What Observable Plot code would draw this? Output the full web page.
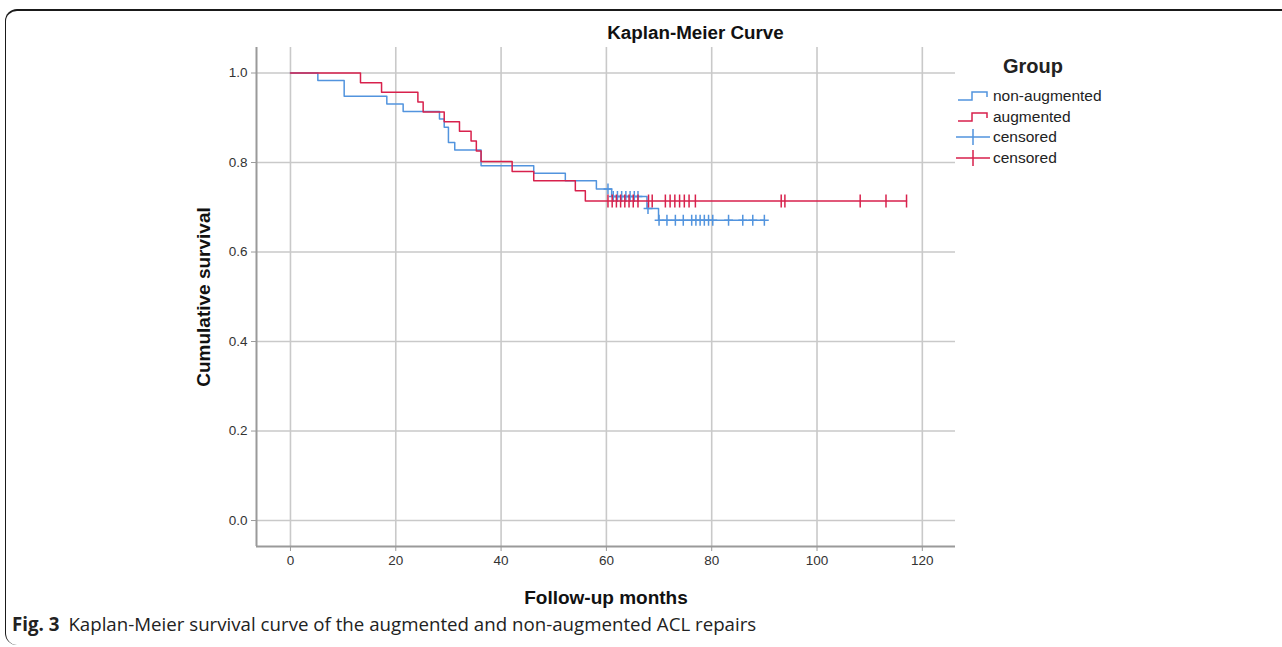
<!DOCTYPE html>
<html>
<head>
<meta charset="utf-8">
<script src="https://cdn.jsdelivr.net/npm/d3@7"></script>
<script src="https://cdn.jsdelivr.net/npm/@observablehq/plot@0.6"></script>
<style>
  html, body { margin: 0; padding: 0; background: #fff; }
  #wrap { position: relative; width: 1282px; height: 647px; overflow: hidden; font-family: "Liberation Sans", Arial, sans-serif; }
  #frame { position: absolute; left: 5px; top: 9px; width: 1300px; height: 636px; border-top: 2px solid #1a1a1a; border-left: 1.5px solid #1a1a1a; border-radius: 12px 0 0 12px; box-sizing: border-box; }
  #chart { position: absolute; left: 0; top: 0; }
  #title { position: absolute; left: 0; width: 1391px; top: 22px; text-align: center; font-weight: bold; font-size: 18.8px; color: #111; }
  #legend { position: absolute; left: 956px; top: 55px; color: #222; }
  #legend .head { font-weight: bold; font-size: 20px; margin-left: 47px; margin-bottom: 8px; }
  #legend .item { display: flex; align-items: center; height: 20.5px; font-size: 15.5px; }
  #legend svg { margin-right: 3px; }
  #caption { position: absolute; left: 12px; top: 611px; font-family: "Open Sans", "Noto Sans", sans-serif; font-size: 18.7px; color: #222; white-space: nowrap; }
  #caption b { font-weight: bold; margin-right: 9px; }
</style>
</head>
<body>
<div id="wrap">
  <div id="frame"></div>
  <div id="chart"></div>
  <div id="title">Kaplan-Meier Curve</div>
  <div id="legend"></div>
  <div id="caption"><b>Fig. 3</b>Kaplan-Meier survival curve of the augmented and non-augmented ACL repairs</div>
</div>
<script>
// ---- data ----
const groups = ["non-augmented", "augmented"];
const colors = ["#5294de", "#d8214c"];

const blueTimes = [0, 5.2, 10.2, 18.3, 21.4, 28.3, 29.2, 30.0, 31.2, 36.2, 46.2, 52.2, 58.1, 61.0, 67.7, 69.9, 90.0];
const blueSurv  = [1.0, 0.983, 0.948, 0.931, 0.914, 0.897, 0.879, 0.845, 0.828, 0.793, 0.776, 0.759, 0.741, 0.724, 0.697, 0.671, 0.671];

const redTimes = [0, 13.3, 17.3, 24.2, 25.2, 29.2, 32.1, 34.3, 35.3, 36.2, 42.1, 46.2, 54.1, 56.0, 117.0];
const redSurv  = [1.0, 0.978, 0.957, 0.935, 0.913, 0.891, 0.870, 0.848, 0.826, 0.802, 0.780, 0.759, 0.737, 0.714, 0.714];

const blueCensTimes = [60.3, 61.3, 62.1, 62.9, 63.7, 64.5, 65.3, 66.0, 67.9, 70.0, 71.5, 73.1, 74.6, 76.2, 77.0, 77.8, 78.6, 79.4, 80.2, 83.2, 85.9, 87.8, 90.0];
const blueCensSurv  = [0.741, 0.724, 0.724, 0.724, 0.724, 0.724, 0.724, 0.724, 0.697, 0.671, 0.671, 0.671, 0.671, 0.671, 0.671, 0.671, 0.671, 0.671, 0.671, 0.671, 0.671, 0.671, 0.671];

const redCensTimes = [60.3, 61.1, 61.9, 62.7, 63.5, 64.3, 65.1, 66.0, 68.0, 68.7, 71.2, 72.1, 73.0, 73.9, 74.8, 75.7, 76.9, 93.2, 93.9, 108.2, 113.1, 117.0];
const redCensSurv  = redCensTimes.map(() => 0.714);

const xTicks = [0, 20, 40, 60, 80, 100, 120];
const yTicks = [0.0, 0.2, 0.4, 0.6, 0.8, 1.0];

// ---- tables built from the arrays ----
const blueLine = blueTimes.map((t, i) => ({t, s: blueSurv[i]}));
const redLine = redTimes.map((t, i) => ({t, s: redSurv[i]}));
const blueCens = blueCensTimes.map((t, i) => ({t, s: blueCensSurv[i]}));
const redCens = redCensTimes.map((t, i) => ({t, s: redCensSurv[i]}));

// cross symbols (stroke-only)
const crossSym = {draw(ctx, size) { const r = Math.sqrt(size / Math.PI); ctx.moveTo(-r * 0.8, 0); ctx.lineTo(r * 0.8, 0); ctx.moveTo(0, -r); ctx.lineTo(0, r); }};
const vtickSym = {draw(ctx, size) { const r = Math.sqrt(size / Math.PI); ctx.moveTo(0, -r); ctx.lineTo(0, r); }};

const xDom = [-6.45, 126.3];
const yDom = [-0.058, 1.057];
const gridColor = "#c9c9c9";
const axisColor = "#9a9a9a";

const chart = Plot.plot({
  width: 1282,
  height: 612,
  marginLeft: 256,
  marginRight: 327,
  marginTop: 47,
  marginBottom: 66,
  style: {fontFamily: "'Liberation Sans', Arial, sans-serif", fontSize: "13.5px", color: "#333", background: "transparent"},
  x: {domain: xDom},
  y: {domain: yDom},
  marks: [
    Plot.gridX(xTicks, {stroke: gridColor, strokeOpacity: 1, strokeWidth: 1.6}),
    Plot.gridY(yTicks, {stroke: gridColor, strokeOpacity: 1, strokeWidth: 1.6}),
    Plot.ruleX([xDom[0]], {stroke: axisColor, strokeWidth: 2}),
    Plot.ruleY([yDom[0]], {stroke: axisColor, strokeWidth: 2}),
    Plot.axisX(xTicks, {tickSize: 5, tickPadding: 4, stroke: axisColor, label: null, fill: "#333"}),
    Plot.axisY(yTicks, {tickSize: 5, tickPadding: 4, stroke: axisColor, label: null, tickFormat: d3.format(".1f"), fill: "#333"}),
    Plot.line(blueLine, {x: "t", y: "s", curve: "step-after", stroke: colors[0], strokeWidth: 1.5}),
    Plot.dot(blueCens, {x: "t", y: "s", symbol: crossSym, r: 5.5, stroke: colors[0], fill: "none", strokeWidth: 1.5}),
    Plot.line(redLine, {x: "t", y: "s", curve: "step-after", stroke: colors[1], strokeWidth: 1.5}),
    Plot.dot(redCens, {x: "t", y: "s", symbol: vtickSym, r: 6.5, stroke: colors[1], fill: "none", strokeWidth: 1.5}),
    Plot.text(["Follow-up months"], {frameAnchor: "bottom", dy: 57, fontWeight: "bold", fontSize: 19, fill: "#111"}),
    Plot.text(["Cumulative survival"], {frameAnchor: "left", dx: -53, rotate: -90, textAnchor: "middle", fontWeight: "bold", fontSize: 19, fill: "#111"})
  ]
});
document.getElementById("chart").appendChild(chart);

// ---- legend ----
const legend = document.getElementById("legend");
legend.innerHTML = '<div class="head">Group</div>';
const stepIcon = c => `<svg width="34" height="14"><path d="M2,11H16V3H31V8" fill="none" stroke="${c}" stroke-width="1.5"/></svg>`;
const crossIcon = c => `<svg width="34" height="20"><path d="M0,10H34M17,2V18" fill="none" stroke="${c}" stroke-width="1.5"/></svg>`;
const items = [
  {icon: stepIcon(colors[0]), label: groups[0]},
  {icon: stepIcon(colors[1]), label: groups[1]},
  {icon: crossIcon(colors[0]), label: "censored"},
  {icon: crossIcon(colors[1]), label: "censored"}
];
for (const it of items) {
  const d = document.createElement("div");
  d.className = "item";
  d.innerHTML = it.icon + "<span>" + it.label + "</span>";
  legend.appendChild(d);
}
</script>
</body>
</html>
